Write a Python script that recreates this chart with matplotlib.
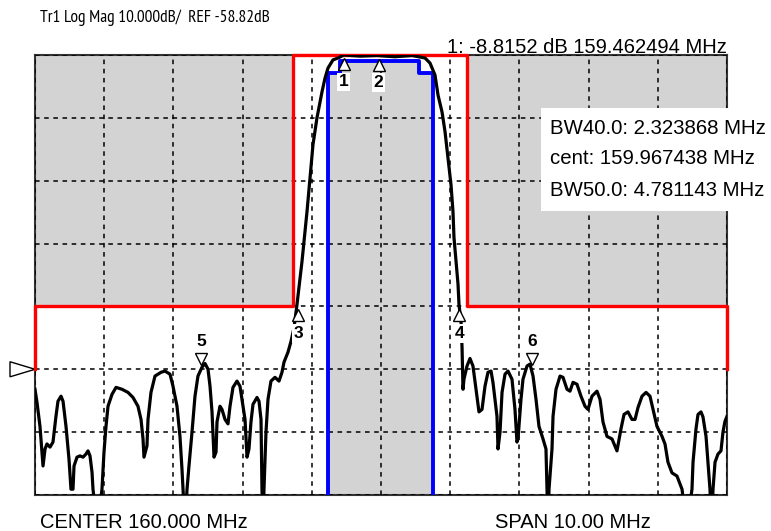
import matplotlib
matplotlib.use("Agg")
import numpy as np
import matplotlib.pyplot as plt
from matplotlib.patches import Polygon
from matplotlib.transforms import offset_copy, blended_transform_factory

NARROW = ['Liberation Sans Narrow', 'Arimo Narrow', 'PT Sans Narrow', 'Roboto Condensed',
          'Archivo Narrow', 'Liberation Sans']
PLAIN = ['Liberation Sans', 'DejaVu Sans']

CENTER = 160.0      # MHz
SPAN = 10.0         # MHz
REF = -58.82        # dB
SCALE = 10.0        # dB/div
REF_POS = 5         # divisions below top
N_XDIV = 10
N_YDIV = 7

# trace (MHz, dB)
freq = [155.000, 155.029, 155.072, 155.116, 155.145, 155.173, 155.217, 155.260, 155.303, 155.332,
        155.376, 155.405, 155.448, 155.491, 155.520, 155.549, 155.564, 155.607, 155.650, 155.694,
        155.737, 155.766, 155.795, 155.824, 155.838, 155.900, 155.968, 155.997, 156.026, 156.055,
        156.113, 156.171, 156.257, 156.344, 156.416, 156.488, 156.532, 156.561, 156.575, 156.618,
        156.633, 156.676, 156.734, 156.821, 156.879, 156.951, 156.994, 157.052, 157.095, 157.124,
        157.139, 157.168, 157.197, 157.225, 157.269, 157.312, 157.355, 157.413, 157.457, 157.500,
        157.529, 157.558, 157.587, 157.616, 157.630, 157.673, 157.702, 157.746, 157.789, 157.818,
        157.861, 157.919, 157.962, 157.991, 158.035, 158.064, 158.092, 158.121, 158.150, 158.208,
        158.237, 158.266, 158.280, 158.295, 158.309, 158.338, 158.367, 158.410, 158.468, 158.526,
        158.569, 158.598, 158.656, 158.699, 158.743, 158.786, 158.858, 158.931, 158.974, 159.017,
        159.075, 159.147, 159.191, 159.234, 159.306, 159.379, 159.462, 159.700, 159.940, 160.200,
        160.450, 160.636, 160.708, 160.780, 160.824, 160.882, 160.925, 160.968, 161.012, 161.040,
        161.055, 161.084, 161.113, 161.127, 161.156, 161.171, 161.185, 161.199, 161.243, 161.286,
        161.329, 161.373, 161.416, 161.460, 161.503, 161.546, 161.590, 161.618, 161.676, 161.691,
        161.720, 161.749, 161.792, 161.835, 161.893, 161.936, 161.965, 161.980, 162.023, 162.052,
        162.110, 162.153, 162.197, 162.240, 162.283, 162.341, 162.384, 162.399, 162.413, 162.428,
        162.471, 162.486, 162.529, 162.587, 162.630, 162.688, 162.731, 162.775, 162.832, 162.890,
        162.948, 162.991, 163.049, 163.121, 163.165, 163.208, 163.266, 163.338, 163.410, 163.468,
        163.512, 163.569, 163.627, 163.671, 163.714, 163.772, 163.830, 163.887, 163.931, 163.988,
        164.061, 164.104, 164.147, 164.205, 164.277, 164.350, 164.420, 164.494, 164.509, 164.552,
        164.581, 164.624, 164.653, 164.697, 164.725, 164.754, 164.776, 164.798, 164.827, 164.870,
        164.913, 164.942, 164.971, 165.000]
mag = [-62.0, -64.1, -67.9, -74.2, -71.5, -70.7, -71.2, -70.4, -66.3, -63.9,
       -63.1, -63.9, -67.9, -73.1, -77.9, -77.9, -74.2, -72.8, -72.6, -72.8,
       -72.3, -71.8, -72.6, -75.2, -77.9, -84.0, -77.9, -72.0, -67.9, -64.7,
       -62.8, -61.7, -62.0, -62.5, -63.3, -64.7, -66.8, -69.9, -72.8, -71.0,
       -66.8, -62.5, -59.9, -59.3, -59.1, -59.6, -61.5, -64.7, -69.5, -74.7,
       -77.9, -84.0, -77.9, -74.2, -68.8, -63.1, -59.9, -58.5, -57.9, -58.8,
       -61.5, -65.6, -72.8, -72.0, -67.2, -64.7, -65.2, -66.8, -67.5, -64.7,
       -61.7, -60.7, -61.5, -63.6, -66.8, -72.8, -71.5, -67.2, -64.4, -63.3,
       -63.9, -66.8, -77.9, -84.0, -77.9, -68.8, -63.6, -60.7, -60.1, -60.7,
       -59.3, -57.7, -56.1, -54.4, -52.2, -48.5, -41.7, -33.7, -28.3, -23.1,
       -18.8, -14.7, -12.5, -10.9, -9.6, -9.3, -8.82, -9.0, -8.9, -9.1,
       -8.9, -9.3, -10.1, -12.0, -15.2, -17.9, -21.0, -25.2, -29.5, -33.7,
       -37.9, -41.7, -45.3, -48.5, -51.2, -55.3, -62.0, -60.4, -58.3, -57.1,
       -58.3, -62.0, -65.6, -65.2, -61.5, -59.3, -59.1, -60.9, -66.3, -71.5,
       -68.8, -62.5, -59.6, -59.1, -60.4, -65.2, -70.4, -69.9, -63.6, -60.4,
       -58.3, -58.0, -59.9, -63.6, -67.9, -69.9, -71.5, -77.9, -84.0, -77.9,
       -71.5, -66.3, -62.0, -59.9, -60.1, -62.0, -62.3, -60.9, -61.2, -63.1,
       -64.7, -65.2, -63.1, -62.3, -63.6, -67.2, -69.5, -69.9, -71.8, -68.3,
       -66.0, -65.6, -66.8, -66.8, -64.9, -63.1, -62.5, -63.1, -65.2, -67.9,
       -69.5, -70.7, -73.6, -75.3, -75.8, -77.9, -84.0, -77.9, -73.6, -68.3,
       -66.0, -65.6, -66.4, -69.5, -73.6, -77.9, -84.0, -77.9, -73.6, -72.3,
       -71.8, -68.8, -67.1, -66.3]

# limit lines
upper_f = [155.0, 155.0, 158.728, 158.728, 161.243, 161.243, 165.0, 165.0]
upper_db = [-58.82, -48.82, -48.82, -8.82, -8.82, -48.82, -48.82, -58.82]
lower_f = [159.234, 159.234, 159.408, 159.408, 160.549, 160.549, 160.747, 160.747]
lower_db = [-90.0, -11.7, -11.7, -9.8, -9.8, -11.7, -11.7, -90.0]

# markers: label, MHz, dB, below trace (True) / above
mk_labels = ['1', '2', '3', '4', '5', '6']
mk_freq = [159.462494, 159.967, 158.8055, 161.1294, 157.40, 162.18]
mk_db = [-8.8152, -8.9, -48.82, -48.82, -58.3, -58.3]
mk_below = [True, True, True, True, False, False]

header = "Tr1 Log Mag 10.000dB/  REF -58.82dB"
active_marker = "1: -8.8152 dB 159.462494 MHz"
bw_lines = ["BW40.0: 2.323868 MHz", "cent: 159.967438 MHz", "BW50.0: 4.781143 MHz"]

W, H = 771, 531
fig = plt.figure(figsize=(W / 100, H / 100), dpi=100)
ax = fig.add_axes([35 / W, 1 - 495 / H, 692 / W, 440 / H])

top = REF + REF_POS * SCALE
bottom = top - N_YDIV * SCALE
ax.set_xlim(CENTER - SPAN / 2, CENTER + SPAN / 2)
ax.set_ylim(bottom, top)

gray = '#d3d3d3'
ax.fill_between(upper_f, upper_db, top, color=gray, lw=0, zorder=0.5)
ax.fill_between(lower_f, lower_db, bottom, color=gray, lw=0, zorder=0.5)

ax.set_xticks(np.linspace(CENTER - SPAN / 2, CENTER + SPAN / 2, N_XDIV + 1))
ax.set_yticks(np.linspace(bottom, top, N_YDIV + 1))
ax.set_axisbelow(False)
ax.grid(True, color='black', linestyle=(0, (3, 3)), lw=1.1)
ax.tick_params(length=0, labelbottom=False, labelleft=False)
for s in ax.spines.values():
    s.set_color('#333333')
    s.set_linewidth(1.5)

ax.plot(upper_f, upper_db, color='#ff0000', lw=2.4, zorder=3, clip_on=False)
ax.plot(lower_f, lower_db, color='#0000ff', lw=2.8, zorder=3)
ax.plot(freq, mag, color='black', lw=2.3, zorder=4, solid_joinstyle='round')

# markers
for lab, f, d, below in zip(mk_labels, mk_freq, mk_db, mk_below):
    if below:
        tr = offset_copy(ax.transData, fig=fig, y=-9, units='dots')
        ax.plot([f], [d], marker='^', ms=8, mfc='white', mec='black', mew=1,
                transform=tr, zorder=5, clip_on=False)
        ax.text(f, d, lab, transform=offset_copy(ax.transData, fig=fig, y=-27, units='dots'),
                ha='center', va='center', fontsize=12.5, fontweight='bold',
                family=PLAIN, zorder=6,
                bbox=dict(boxstyle='square,pad=0.1', fc='white', ec='none'))
    else:
        tr = offset_copy(ax.transData, fig=fig, y=7, units='dots')
        ax.plot([f], [d], marker='v', ms=8, mfc='white', mec='black', mew=1,
                transform=tr, zorder=5, clip_on=False)
        ax.text(f, d, lab, transform=offset_copy(ax.transData, fig=fig, y=25, units='dots'),
                ha='center', va='center', fontsize=12.5, fontweight='bold',
                family=PLAIN, zorder=6)

# reference position triangle
btr = blended_transform_factory(ax.transAxes, ax.transData)
ref_tri = Polygon([[-25 / 692, REF + 1.2], [-25 / 692, REF - 1.2], [0, REF]],
                  closed=True, fc='white', ec='black', lw=1, transform=btr, clip_on=False)
ax.add_patch(ref_tri)

# texts
fig.text(40 / W, 1 - 18 / H, header, ha='left', va='center', fontsize=12.5, family=NARROW)
fig.text(727 / W, 1 - 53 / H, active_marker, ha='right', va='baseline', fontsize=14.5,
         family=PLAIN, zorder=10)
fig.text(40 / W, 1 - 523 / H, "CENTER 160.000 MHz", ha='left', va='center',
         fontsize=14.5, family=PLAIN)
fig.text(495 / W, 1 - 523 / H, "SPAN 10.00 MHz", ha='left', va='center',
         fontsize=14.5, family=PLAIN)

box = plt.Rectangle((541 / W, 1 - 211 / H), (W - 541) / W, 103 / H,
                    transform=fig.transFigure, fc='white', ec='none', zorder=8)
fig.patches.append(box)
for i, line in enumerate(bw_lines):
    fig.text(550 / W, 1 - (128 + 31 * i) / H, line, ha='left', va='center',
             fontsize=14.7, family=PLAIN, zorder=9)

fig.savefig('out.png', dpi=100)
